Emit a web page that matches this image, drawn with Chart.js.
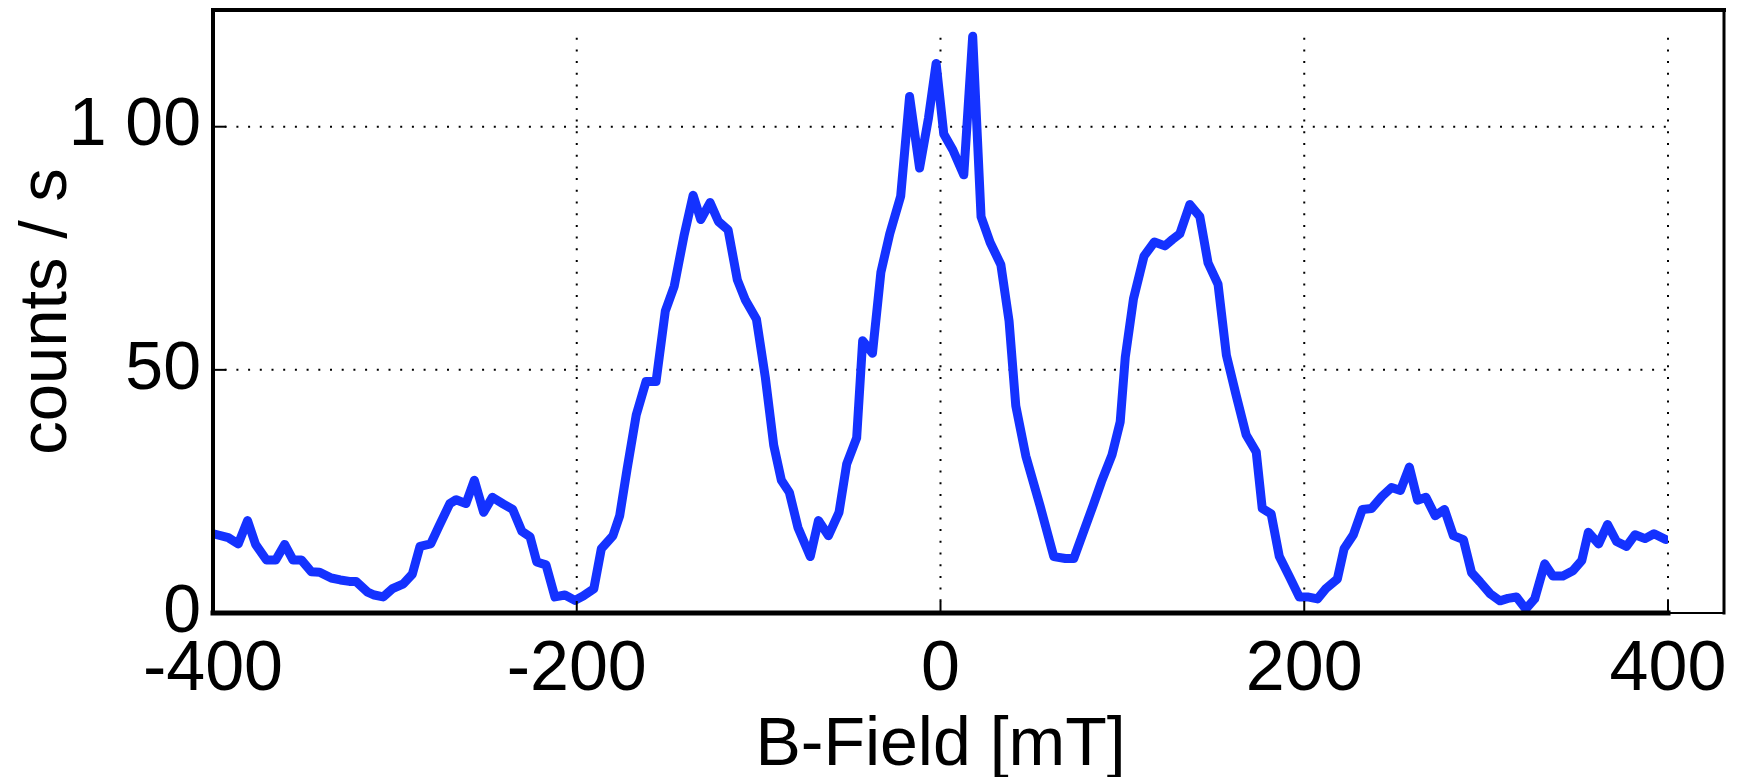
<!DOCTYPE html>
<html>
<head>
<meta charset="utf-8">
<script src="https://cdn.jsdelivr.net/npm/chart.js@4.4.0/dist/chart.umd.min.js"></script>
<style>
  html, body { margin: 0; padding: 0; background: #fff; overflow: hidden; }
  #wrap { width: 1738px; height: 777px; }
</style>
</head>
<body>
<div id="wrap"><canvas id="chart" width="1738" height="777"></canvas></div>
<script>
const bField = [
  -399.8, -391.6, -386.1, -381.0, -376.6, -370.6, -365.5, -360.6, -356.0, -351.4,
  -346.0, -341.4, -335.0, -330.0, -325.0, -321.4, -315.0, -311.3, -306.4, -301.3,
  -295.3, -290.4, -286.2, -280.3, -275.8, -269.8, -266.3, -260.9, -256.3, -251.2,
  -246.4, -240.3, -235.2, -230.2, -225.7, -222.0, -216.9, -212.0, -206.5, -201.0,
  -196.5, -190.6, -186.5, -180.1, -176.4, -172.4, -167.3, -161.9, -156.4, -151.3,
  -146.4, -140.9, -136.0, -131.8, -126.7, -122.1, -116.8, -111.7, -107.2, -101.2,
  -96.3, -91.7, -87.5, -83.1, -78.4, -71.6, -67.1, -61.6, -55.8, -51.6,
  -46.1, -42.8, -37.4, -32.8, -27.9, -21.9, -17.0, -11.5, -6.6, -2.4,
  1.8, 6.8, 12.8, 17.7, 22.3, 27.3, 33.2, 37.7, 41.4, 46.9,
  54.7, 62.3, 68.7, 73.3, 84.2, 88.5, 94.3, 98.8, 101.6, 106.1,
  111.9, 117.6, 123.4, 127.5, 131.6, 137.1, 142.6, 147.1, 152.6, 157.2,
  162.6, 168.1, 173.6, 176.9, 181.8, 186.3, 191.8, 197.3, 201.8, 207.3,
  211.9, 218.2, 221.9, 227.0, 231.9, 237.0, 242.8, 248.0, 252.9, 257.8,
  262.3, 266.9, 272.0, 277.1, 282.0, 287.5, 292.0, 296.6, 302.1, 307.6,
  312.0, 316.7, 321.8, 326.7, 332.2, 336.7, 342.2, 347.7, 352.6, 356.2,
  361.9, 366.8, 371.7, 377.2, 381.9, 387.4, 392.3, 398.7
];
const counts = [
  16.3, 15.5, 14.2, 19.0, 14.1, 10.9, 10.9, 14.1, 10.9, 10.9,
  8.5, 8.4, 7.2, 6.8, 6.5, 6.5, 4.3, 3.7, 3.3, 5.0,
  6.0, 8.0, 13.7, 14.2, 17.8, 22.5, 23.3, 22.5, 27.3, 20.7,
  23.8, 22.4, 21.3, 16.8, 15.7, 10.5, 9.9, 3.3, 3.7, 2.6,
  3.5, 5.0, 13.2, 15.9, 20.0, 29.4, 40.7, 47.6, 47.6, 62.1,
  67.2, 77.8, 85.9, 80.9, 84.4, 80.5, 78.8, 68.5, 64.3, 60.4,
  48.4, 34.5, 27.3, 24.8, 17.6, 11.6, 19.0, 15.9, 20.7, 30.6,
  36.0, 56.0, 53.4, 70.0, 78.0, 85.7, 106.2, 91.5, 101.8, 113.0,
  98.5, 95.2, 90.1, 118.6, 81.5, 76.2, 71.6, 60.0, 42.6, 32.3,
  22.1, 11.6, 11.2, 11.2, 22.4, 27.0, 32.5, 39.3, 52.6, 64.6,
  73.4, 76.3, 75.5, 76.8, 78.0, 84.0, 81.5, 72.0, 67.6, 53.0,
  44.7, 36.6, 33.1, 21.5, 20.4, 11.6, 7.5, 3.3, 3.3, 2.9,
  5.0, 7.0, 13.2, 16.1, 21.3, 21.5, 24.0, 25.8, 25.2, 30.0,
  23.2, 23.8, 20.0, 21.3, 15.9, 15.1, 8.3, 6.4, 4.0, 2.5,
  3.0, 3.3, 0.8, 2.9, 10.1, 7.6, 7.6, 8.7, 10.8, 16.6,
  14.2, 18.2, 14.7, 13.7, 16.1, 15.3, 16.3, 15.1
];

const xTicks = [-400, -200, 0, 200, 400];
const yTicks = [0, 50, 100];
const yTickLabels = ["0", "50", "1 00"];

const FONT = "'Liberation Sans', Arial, Helvetica, sans-serif";

// Rahmen, gepunktetes Gitter und Tickstriche wie im MATLAB-Plot
const framePlugin = {
  id: "frame",
  beforeDatasetsDraw(chart) {
    const { ctx, scales: { x, y } } = chart;
    ctx.save();
    ctx.strokeStyle = "#000";
    ctx.lineWidth = 2;
    ctx.setLineDash([2, 9.7]);
    const y0 = y.getPixelForValue(0);
    const yTop = y.getPixelForValue(120);
    xTicks.forEach(v => {
      if (v === xTicks[0]) return;
      const px = x.getPixelForValue(v);
      ctx.beginPath(); ctx.moveTo(px, y0); ctx.lineTo(px, yTop); ctx.stroke();
    });
    yTicks.forEach(v => {
      if (v === yTicks[0]) return;
      const py = y.getPixelForValue(v);
      ctx.beginPath();
      ctx.moveTo(x.getPixelForValue(-400), py);
      ctx.lineTo(x.getPixelForValue(400), py);
      ctx.stroke();
    });
    ctx.restore();
  },
  afterDatasetsDraw(chart) {
    const { ctx, chartArea: a, scales: { x, y } } = chart;
    const extra = 56;
    ctx.save();
    ctx.strokeStyle = "#000";
    ctx.lineCap = "square";
    const seg = (x1, y1, x2, y2, w) => {
      ctx.lineWidth = w;
      ctx.beginPath(); ctx.moveTo(x1, y1); ctx.lineTo(x2, y2); ctx.stroke();
    };
    seg(a.left, a.top, a.right + extra, a.top, 4);
    seg(a.right + extra, a.top, a.right + extra, a.bottom, 3);
    seg(a.right, a.bottom, a.right + extra, a.bottom, 2);
    seg(a.left, a.top, a.left, a.bottom, 4);
    seg(a.left, a.bottom, a.right, a.bottom, 5);
    ctx.lineCap = "butt";
    xTicks.forEach(v => {
      const px = x.getPixelForValue(v);
      seg(px, a.bottom, px, a.bottom - 12, 2);
    });
    yTicks.forEach(v => {
      const py = y.getPixelForValue(v);
      seg(a.left, py, a.left + 13, py, 2);
    });
    ctx.restore();
  }
};

function initChart() {
  const ctx = document.getElementById("chart").getContext("2d");
  new Chart(ctx, {
    type: "line",
    data: {
      datasets: [{
        data: bField.map((b, i) => ({ x: b, y: counts[i] })),
        borderColor: "#1432ff",
        borderWidth: 9,
        borderJoinStyle: "round",
        borderCapStyle: "round",
        pointRadius: 0,
        tension: 0,
        fill: false
      }]
    },
    options: {
      responsive: false,
      animation: false,
      devicePixelRatio: 1,
      layout: { padding: { top: 10, right: 70, left: 0, bottom: 0 } },
      plugins: {
        legend: { display: false },
        tooltip: { enabled: false }
      },
      scales: {
        x: {
          type: "linear",
          position: "bottom",
          min: -400,
          max: 400,
          grid: { display: false, drawTicks: false },
          border: { display: false },
          afterBuildTicks: s => { s.ticks = xTicks.map(v => ({ value: v })); },
          afterFit: s => { s.height = 164; s.paddingLeft = 0; s.paddingRight = 0; },
          ticks: {
            color: "#000",
            font: { family: FONT, size: 70 },
            padding: 16,
            maxRotation: 0,
            autoSkip: false
          },
          title: {
            display: true,
            text: "B-Field [mT]",
            color: "#000",
            font: { family: FONT, size: 68, lineHeight: 0.9 },
            padding: { top: 0, bottom: 0 }
          }
        },
        y: {
          type: "linear",
          min: 0,
          max: 124,
          grid: { display: false, drawTicks: false },
          border: { display: false },
          afterBuildTicks: s => { s.ticks = yTicks.map(v => ({ value: v })); },
          afterFit: s => { s.width = 213; s.paddingTop = 0; s.paddingBottom = 0; },
          ticks: {
            color: "#000",
            font: { family: FONT, size: 68 },
            padding: 12,
            callback: v => yTickLabels[yTicks.indexOf(v)]
          },
          title: {
            display: true,
            text: "counts / s",
            color: "#000",
            font: { family: FONT, size: 67 },
            padding: { top: 7, bottom: 0 }
          }
        }
      }
    },
    plugins: [framePlugin]
  });
}

window.onload = initChart;
</script>
</body>
</html>
